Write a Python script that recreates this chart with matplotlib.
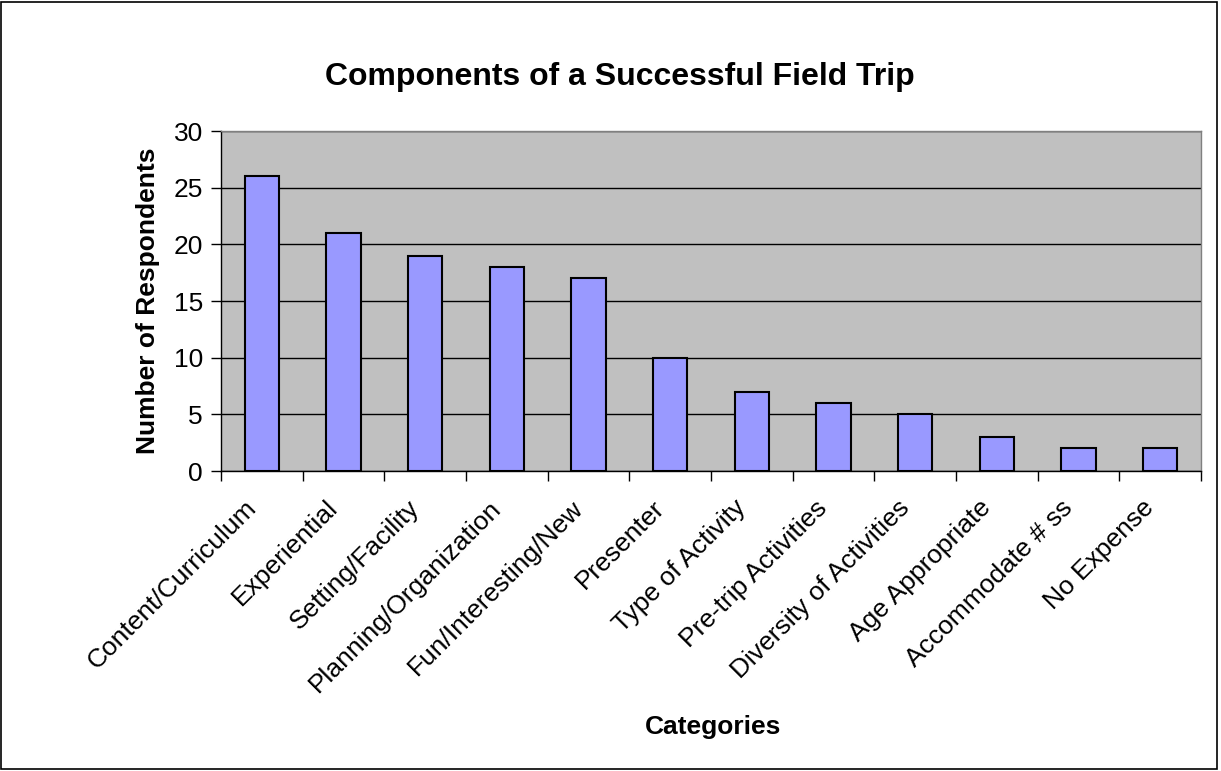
import numpy as np
from matplotlib import pyplot as plt
from matplotlib.patches import Rectangle
from matplotlib.transforms import ScaledTranslation

plt.rcParams['font.family'] = ['Liberation Sans', 'DejaVu Sans']

# Data
categories = ['Content/Curriculum', 'Experiential', 'Setting/Facility', 'Planning/Organization',
              'Fun/Interesting/New', 'Presenter', 'Type of Activity', 'Pre-trip Activities',
              'Diversity of Activities', 'Age Appropriate', 'Accommodate # ss', 'No Expense']
respondents = [26, 21, 19, 18, 17, 10, 7, 6, 5, 3, 2, 2]
yticks = [0, 5, 10, 15, 20, 25, 30]

fig = plt.figure(figsize=(12.21, 7.71), dpi=100)
ax = fig.add_axes([0.181, 0.389, 0.8025, 0.441])

x = np.arange(len(categories))
ax.set_facecolor('#C0C0C0')
ax.bar(x, respondents, width=0.42, color='#9999FF', edgecolor='black', linewidth=1.5, zorder=3)

ax.set_xlim(-0.5, len(categories) - 0.5)
ax.set_ylim(0, 30)
ax.set_yticks(yticks)
ax.yaxis.grid(True, color='black', linewidth=1, zorder=1)
ax.set_axisbelow(True)

# ticks between categories
ax.set_xticks(np.arange(len(categories) + 1) - 0.5, minor=False)
ax.set_xticklabels([])
ax.set_xticks(x, minor=True)
ax.set_xticklabels(categories, minor=True, rotation=45, ha='right', va='top',
                   rotation_mode='anchor', fontsize=19)
ax.tick_params(axis='x', which='minor', length=0, pad=12)
ax.tick_params(axis='x', which='major', length=7, direction='out', width=1)
ax.tick_params(axis='y', length=7, direction='out', width=1, labelsize=19, pad=6)

# nudge labels a little down-left like the original
shift = ScaledTranslation(-0.18, -0.08, fig.dpi_scale_trans)
for lbl in ax.get_xticklabels(minor=True):
    lbl.set_transform(lbl.get_transform() + shift)

for s in ['top', 'right']:
    ax.spines[s].set_color('#808080')
    ax.spines[s].set_linewidth(1)
for s in ['left', 'bottom']:
    ax.spines[s].set_color('black')
    ax.spines[s].set_linewidth(1)

ax.set_ylabel('Number of Respondents', fontsize=19, fontweight='bold', labelpad=10)
fig.text(0.584, 0.057, 'Categories', fontsize=19, fontweight='bold', ha='center', va='center')
fig.text(0.508, 0.900, 'Components of a Successful Field Trip', fontsize=23,
         fontweight='bold', ha='center', va='center')

# outer chart border
fig.patches.append(Rectangle((0.001, 0.002), 0.996, 0.996, transform=fig.transFigure,
                             fill=False, edgecolor='black', linewidth=1.2))

fig.savefig('out.png', dpi=100)
